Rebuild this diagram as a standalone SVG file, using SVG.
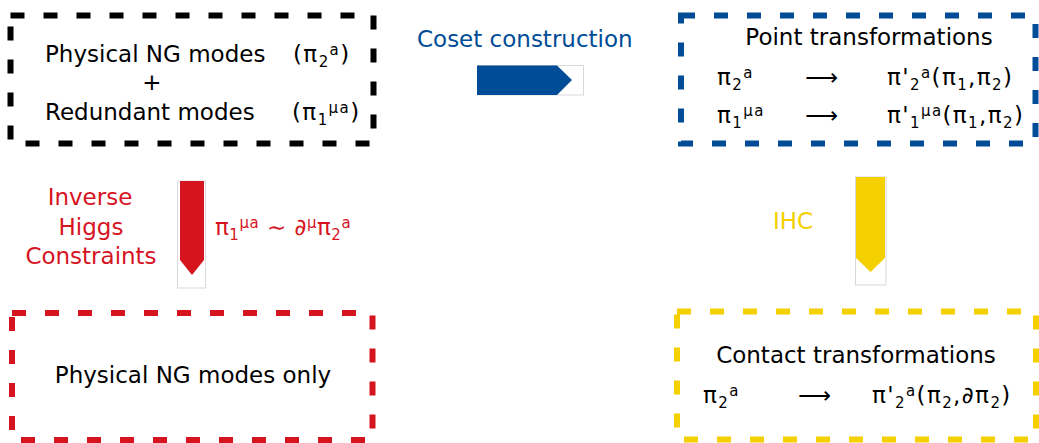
<svg xmlns="http://www.w3.org/2000/svg" width="1039" height="443" viewBox="0 0 1039 443">
<style>
text{font-family:"DejaVu Sans","Verdana",sans-serif;font-size:23px;fill:#000}
.box{fill:none;stroke-width:6;stroke-dasharray:14 19}
.blk{stroke:#000}
.blu{stroke:#004c97}
.red{stroke:#d6141f}
.yel{stroke:#f5d000}
.tb{fill:#004c97}
.tr{fill:#d6141f}
.ty{fill:#f5d000}
.s{font-size:15px}
.f{letter-spacing:1.4px}
.ol{fill:#fff;stroke:#d9d9d9;stroke-width:1}
</style>
<rect width="1039" height="443" fill="#fff"/>
<g id="connectors">
  <g id="arrow-coset">
    <rect class="ol" x="477.5" y="65.5" width="106" height="29.5"/>
    <polygon points="477,65.5 557,65.5 572,80 557,95 477,95" fill="#004c97"/>
  </g>
  <g id="arrow-ihc-red">
    <rect class="ol" x="177.5" y="181" width="28" height="107"/>
    <polygon points="180,181 204,181 204,260 192,275 180,260" fill="#d6141f"/>
  </g>
  <g id="arrow-ihc-yellow">
    <rect class="ol" x="855.5" y="177" width="30.5" height="108"/>
    <polygon points="856,177 885,177 885,258 870.5,272 856,258" fill="#f5d000"/>
  </g>
  <text class="tb" x="417" y="47">Coset construction</text>
  <text class="tr" text-anchor="middle" x="90" y="205">Inverse</text>
  <text class="tr" text-anchor="middle" x="91" y="235">Higgs</text>
  <text class="tr" text-anchor="middle" x="91" y="264">Constraints</text>
  <text class="tr" x="215" y="235" style="letter-spacing:0.5px">π<tspan class="s" dy="5">1</tspan><tspan class="s" dy="-12">μa</tspan><tspan dy="7"> ∼ ∂</tspan><tspan class="s" dy="-7">μ</tspan><tspan dy="7">π</tspan><tspan class="s" dy="5">2</tspan><tspan class="s" dy="-12">a</tspan></text>
  <text class="ty" x="773" y="229">IHC</text>
</g>
<g id="node-full">
  <rect class="box blk" x="10.5" y="15.5" width="363" height="128"/>
  <text x="45" y="62">Physical NG modes</text>
  <text class="f" x="293" y="62">(π<tspan class="s" dy="5">2</tspan><tspan class="s" dy="-12">a</tspan><tspan dy="7">)</tspan></text>
  <text x="152" y="90" text-anchor="middle">+</text>
  <text x="45" y="120">Redundant modes</text>
  <text class="f" x="292" y="120">(π<tspan class="s" dy="5">1</tspan><tspan class="s" dy="-12">μa</tspan><tspan dy="7">)</tspan></text>
</g>
<g id="node-point">
  <rect class="box blu" x="681" y="15.5" width="354.5" height="128"/>
  <text x="869" y="45" text-anchor="middle">Point transformations</text>
  <text class="f" x="717" y="85">π<tspan class="s" dy="5">2</tspan><tspan class="s" dy="-12">a</tspan></text>
  <text x="805" y="85">⟶</text>
  <text class="f" x="887" y="85">π'<tspan class="s" dy="5">2</tspan><tspan class="s" dy="-12">a</tspan><tspan dy="7">(π</tspan><tspan class="s" dy="5">1</tspan><tspan dy="-5">,π</tspan><tspan class="s" dy="5">2</tspan><tspan dy="-5">)</tspan></text>
  <text class="f" x="717" y="123">π<tspan class="s" dy="5">1</tspan><tspan class="s" dy="-12">μa</tspan></text>
  <text x="805" y="123">⟶</text>
  <text class="f" x="887" y="123">π'<tspan class="s" dy="5">1</tspan><tspan class="s" dy="-12">μa</tspan><tspan dy="7">(π</tspan><tspan class="s" dy="5">1</tspan><tspan dy="-5">,π</tspan><tspan class="s" dy="5">2</tspan><tspan dy="-5">)</tspan></text>
</g>
<g id="node-physical">
  <rect class="box red" x="12" y="313" width="360.5" height="127"/>
  <text x="193" y="383" text-anchor="middle">Physical NG modes only</text>
</g>
<g id="node-contact">
  <rect class="box yel" x="677" y="311.5" width="359" height="128"/>
  <text x="856" y="363" text-anchor="middle">Contact transformations</text>
  <text class="f" x="703" y="403">π<tspan class="s" dy="5">2</tspan><tspan class="s" dy="-12">a</tspan></text>
  <text x="798" y="403">⟶</text>
  <text class="f" x="872" y="403">π'<tspan class="s" dy="5">2</tspan><tspan class="s" dy="-12">a</tspan><tspan dy="7">(π</tspan><tspan class="s" dy="5">2</tspan><tspan dy="-5">,∂π</tspan><tspan class="s" dy="5">2</tspan><tspan dy="-5">)</tspan></text>
</g>
</svg>
